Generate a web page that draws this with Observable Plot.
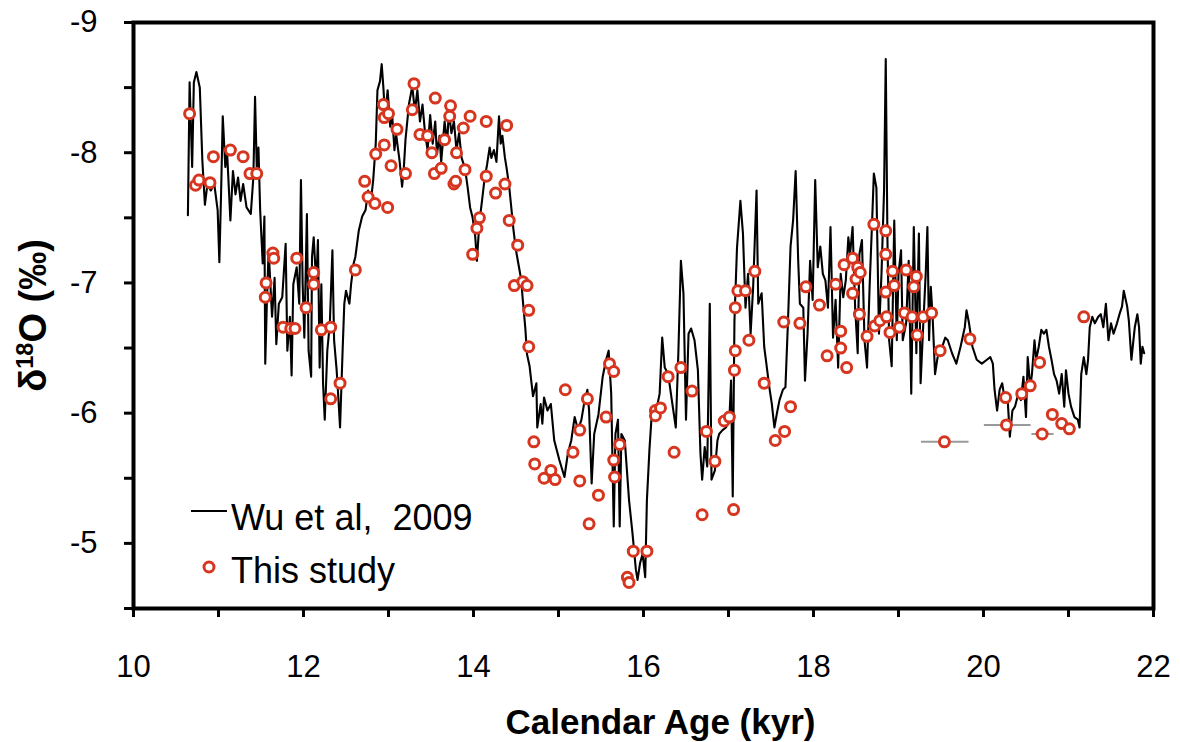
<!DOCTYPE html>
<html>
<head>
<meta charset="utf-8">
<script src="https://cdn.jsdelivr.net/npm/d3@7"></script>
<script src="https://cdn.jsdelivr.net/npm/@observablehq/plot@0.6"></script>
<style>
  html, body { margin: 0; padding: 0; background: #fff; }
  svg { display: block; }
</style>
</head>
<body>
<div id="chart"></div>
<script>
// ---- Wu et al. 2009 record (calendar age kyr, d18O permil) ----
const wuAge = [
10.64,10.66,10.69,10.71,10.74,10.78,10.81,10.84,10.87,10.91,10.95,10.99,11.01,11.03,11.05,11.08,11.10,11.14,11.17,11.20,
11.23,11.26,11.29,11.33,11.38,11.41,11.43,11.45,11.47,11.49,11.52,11.54,11.55,11.57,11.59,11.63,11.66,11.68,11.71,11.75,
11.79,11.81,11.84,11.86,11.88,11.92,11.95,11.97,11.99,12.01,12.04,12.06,12.09,12.10,12.12,12.15,12.17,12.19,12.21,12.23,
12.25,12.28,12.31,12.34,12.36,12.39,12.41,12.43,12.46,12.48,12.50,12.54,12.56,12.59,12.61,12.65,12.69,12.73,12.76,12.79,
12.82,12.85,12.87,12.90,12.92,12.94,12.96,12.99,13.02,13.04,13.07,13.09,13.13,13.16,
13.18,13.20,13.24,13.28,13.31,13.34,13.37,13.40,13.43,13.46,13.49,13.52,13.55,13.57,13.60,13.62,13.66,13.69,13.71,13.74,
13.77,13.80,13.83,13.86,13.90,13.93,13.96,13.99,14.02,14.04,14.07,14.10,14.13,14.16,14.19,14.21,14.24,14.27,14.30,14.32,
14.34,14.37,14.39,14.42,14.44,14.47,14.50,14.53,14.56,14.58,14.61,14.63,
14.66,14.70,14.74,14.75,14.79,14.81,14.83,14.87,14.91,14.95,15.01,15.07,15.11,15.15,15.19,15.23,15.27,15.30,15.34,15.36,
15.39,15.42,15.47,15.52,15.56,15.59,15.62,15.65,15.67,15.70,15.72,15.74,15.78,15.83,15.87,15.91,15.93,15.96,15.99,16.02,
16.04,16.07,16.10,
16.11,16.15,16.19,16.22,16.25,16.29,16.34,16.38,16.41,16.44,16.47,16.50,16.53,16.56,16.60,16.64,16.67,16.69,16.72,16.75,
16.78,16.80,16.84,16.87,16.89,16.93,16.97,17.01,17.03,17.05,17.07,17.10,17.14,17.17,17.20,17.23,17.26,17.29,17.33,17.35,
17.39,17.42,17.44,17.48,17.51,17.54,17.57,17.60,17.64,17.67,17.70,17.73,17.76,17.79,17.82,17.84,17.88,17.90,17.93,17.96,
17.99,18.02,18.05,18.08,18.11,18.14,18.17,18.20,18.23,18.26,18.29,18.32,18.35,18.38,18.41,18.43,18.46,18.49,18.52,18.54,
18.57,18.60,18.63,18.66,18.69,18.71,18.74,18.77,
18.80,18.83,18.85,18.87,18.89,18.92,18.95,18.98,19.00,19.03,19.05,19.09,19.12,19.15,19.18,19.21,19.24,19.26,19.29,19.32,
19.34,19.36,19.38,19.40,19.43,19.46,19.50,19.55,19.58,19.63,19.68,19.73,19.78,19.80,19.83,19.87,19.92,19.98,20.04,20.08,
20.11,20.13,20.16,20.19,20.22,20.25,20.28,20.31,20.34,20.37,20.41,20.44,20.47,20.50,20.52,20.55,20.57,20.60,20.62,20.65,
20.68,20.71,20.74,20.77,20.80,20.83,20.86,20.89,20.92,20.95,20.97,21.00,21.03,21.07,21.11,21.13,21.15,21.18,21.21,21.23,
21.25,21.28,21.31,21.35,21.38,21.41,21.44,21.47,21.50,21.53,21.57,21.60,21.63,21.65,21.69,21.71,21.74,21.78,21.81,21.83,
21.85,21.87,21.89
];
const wuD18O = [
-7.52,-8.54,-7.89,-8.54,-8.62,-8.50,-7.94,-7.60,-7.76,-7.71,-7.76,-7.56,-7.16,-7.68,-8.28,-7.89,-8.02,-7.48,-7.86,-7.68,
-7.81,-7.63,-7.76,-7.58,-7.53,-7.81,-8.43,-7.89,-8.04,-7.56,-7.15,-7.51,-6.38,-6.87,-7.25,-6.74,-7.04,-6.53,-6.84,-6.89,
-7.30,-6.48,-6.74,-6.29,-6.99,-7.12,-6.84,-7.79,-6.99,-6.58,-7.53,-6.48,-6.28,-7.20,-7.35,-6.99,-7.33,-6.35,-6.99,-6.23,
-5.95,-6.48,-6.69,-7.25,-6.56,-6.33,-6.12,-5.89,-6.48,-6.84,-6.94,-6.84,-6.99,-7.15,-7.20,-7.40,-7.51,-7.56,-7.71,-7.61,
-7.79,-8.07,-8.48,-8.55,-8.68,-8.50,-8.27,-8.48,-8.20,-8.32,-8.02,-8.14,-7.94,-7.74,
-7.88,-8.10,-8.37,-8.51,-8.32,-8.48,-8.24,-8.37,-8.15,-8.02,-8.29,-8.07,-8.24,-7.99,-8.13,-7.93,-8.24,-8.07,-8.32,-8.15,
-8.24,-8.02,-8.15,-7.96,-7.88,-7.74,-7.58,-7.50,-7.36,-7.17,-7.47,-7.63,-7.80,-7.91,-8.04,-7.96,-8.02,-7.93,-8.28,-8.07,
-8.13,-7.96,-7.88,-7.74,-7.61,-7.41,-7.25,-7.14,-7.03,-6.87,-6.65,-6.45,
-6.36,-6.13,-6.23,-5.89,-6.07,-5.92,-6.12,-6.02,-6.07,-5.79,-5.64,-5.51,-5.69,-5.79,-5.97,-5.87,-5.95,-6.07,-6.18,-6.02,
-5.46,-5.84,-5.99,-6.28,-6.41,-6.48,-6.15,-5.13,-5.84,-5.95,-5.13,-5.84,-5.79,-5.33,-5.08,-4.80,-4.72,-4.85,-4.92,-4.74,
-5.33,-5.72,-6.02,
-6.00,-6.02,-6.15,-6.58,-6.35,-6.30,-6.07,-5.89,-6.46,-7.17,-6.92,-5.95,-6.61,-6.65,-6.56,-6.33,-5.69,-5.49,-5.74,-5.59,
-6.84,-5.49,-5.56,-5.79,-5.84,-5.87,-5.89,-5.95,-6.25,-5.36,-6.71,-7.27,-7.63,-7.38,-6.81,-7.07,-6.61,-6.97,-7.71,-6.84,
-6.92,-6.51,-6.41,-6.20,-6.07,-5.89,-6.00,-6.10,-6.18,-6.20,-6.71,-7.28,-7.48,-7.86,-7.17,-6.84,-6.81,-6.25,-6.61,-7.17,
-6.87,-7.79,-7.12,-7.28,-7.07,-7.02,-6.81,-7.43,-6.58,-6.87,-6.35,-7.07,-6.89,-7.02,-7.35,-7.22,-7.43,-6.81,-6.46,-7.22,
-7.33,-6.56,-6.35,-6.97,-7.48,-7.84,-7.73,-6.61,
-7.07,-7.71,-8.72,-7.33,-6.56,-6.36,-7.48,-6.56,-7.07,-7.25,-6.56,-6.69,-7.17,-6.15,-7.43,-6.46,-7.38,-6.23,-6.66,-7.07,
-7.43,-6.56,-6.97,-6.76,-6.30,-6.43,-6.48,-6.58,-6.56,-6.46,-6.38,-6.51,-6.66,-6.79,-6.69,-6.51,-6.41,-6.38,-6.41,-6.43,
-6.38,-6.18,-6.02,-6.18,-6.23,-6.10,-6.15,-5.82,-6.02,-6.05,-6.15,-6.10,-6.28,-5.97,-6.43,-6.20,-6.30,-6.56,-6.41,-6.51,
-6.64,-6.61,-6.64,-6.51,-6.41,-6.30,-6.25,-6.15,-6.30,-6.05,-6.33,-6.15,-6.05,-5.97,-5.95,-5.89,-6.30,-6.43,-6.30,-6.41,
-6.66,-6.74,-6.69,-6.74,-6.76,-6.66,-6.84,-6.56,-6.69,-6.61,-6.69,-6.76,-6.82,-6.94,-6.82,-6.71,-6.41,-6.66,-6.76,-6.66,
-6.38,-6.51,-6.46
];

// ---- This study (calendar age kyr, d18O permil) ----
const studyAge = [
10.66,10.73,10.77,10.90,10.94,11.14,11.29,11.37,11.45,11.55,11.56,11.64,11.65,11.76,11.85,11.90,11.92,12.03,12.12,12.12,
12.21,12.32,12.32,12.43,12.61,12.72,12.76,12.84,12.85,12.94,12.95,12.95,12.99,13.00,13.03,13.10,13.20,13.28,13.30,13.37,
13.46,13.51,13.54,13.55,13.62,13.66,13.72,13.73,13.77,13.79,13.80,13.88,13.90,13.96,13.99,14.04,14.07,14.15,14.15,14.26,
14.37,14.39,14.42,14.48,14.52,14.58,14.63,14.65,14.65,14.71,14.72,14.83,14.91,14.96,15.08,15.17,15.25,15.25,15.34,15.36,
15.47,15.56,15.60,15.65,15.65,15.66,15.72,15.81,15.83,15.88,16.04,16.14,16.14,16.20,16.29,16.36,16.44,16.57,16.69,16.74,
16.84,16.95,17.01,17.06,17.07,17.08,17.08,17.11,17.20,17.24,17.31,17.42,17.55,17.65,17.66,17.73,17.84,17.91,18.07,18.16,
18.26,18.32,18.32,18.36,18.39,18.46,18.46,18.50,18.52,18.54,18.55,18.63,18.71,18.72,18.78,18.85,18.85,18.85,18.86,18.90,
18.93,18.95,19.01,19.07,19.09,19.16,19.18,19.21,19.22,19.29,19.39,19.49,19.54,19.84,20.26,20.27,20.45,20.55,20.66,20.69,
20.81,20.92,21.01,21.18
];
const studyD18O = [
-8.30,-7.75,-7.79,-7.77,-7.97,-8.02,-7.97,-7.84,-7.84,-6.89,-7.00,-7.23,-7.19,-6.66,-6.65,-6.65,-7.19,-6.81,-7.08,-6.99,
-6.64,-6.66,-6.11,-6.23,-7.10,-7.78,-7.66,-7.61,-7.99,-8.37,-8.27,-8.06,-7.58,-8.30,-7.90,-8.18,-7.84,-8.33,-8.53,-8.14,
-8.13,-8.00,-7.84,-8.42,-7.88,-8.10,-8.28,-8.36,-7.76,-7.78,-8.00,-8.19,-7.87,-8.28,-7.22,-7.42,-7.50,-8.24,-7.82,-7.69,
-7.76,-8.21,-7.48,-6.98,-7.29,-7.01,-6.98,-6.79,-6.51,-5.78,-5.61,-5.50,-5.56,-5.49,-6.18,-5.70,-5.87,-5.48,-6.11,-5.15,
-5.37,-5.97,-6.38,-6.32,-5.64,-5.51,-5.76,-4.74,-4.70,-4.94,-4.94,-6.02,-5.98,-6.04,-6.28,-5.70,-6.35,-6.17,-5.22,-5.86,
-5.63,-5.94,-5.97,-5.26,-6.33,-6.48,-6.81,-6.94,-6.94,-6.56,-7.09,-6.23,-5.79,-6.70,-5.86,-6.05,-6.69,-6.97,-6.83,-6.44,
-6.99,-6.63,-6.50,-7.14,-6.35,-7.19,-6.92,-7.03,-7.12,-6.76,-7.08,-6.59,-7.45,-6.67,-6.71,-7.40,-7.22,-6.93,-6.74,-6.62,
-7.09,-6.98,-6.66,-6.77,-7.10,-6.74,-6.97,-7.05,-6.60,-6.74,-6.77,-6.48,-5.78,-6.57,-6.12,-5.91,-6.15,-6.21,-6.39,-5.84,
-5.99,-5.92,-5.88,-6.74
];

// ---- age uncertainty bars for three samples ----
const errAgeLo = [19.27, 20.01, 20.57];
const errAgeHi = [19.83, 20.56, 20.83];
const errD18O  = [-5.78, -5.91, -5.84];

// ---- ticks and labels ----
const xTicks = [10,11,12,13,14,15,16,17,18,19,20,21,22];
const yTicks = [-9,-8.5,-8,-7.5,-7,-6.5,-6,-5.5,-5,-4.5];
const xLabel = "Calendar Age (kyr)";
const yLabel = "δ18O (‰)";
const seriesNames = ["Wu et al,  2009", "This study"];

const wu = wuAge.map((a, i) => ({age: a, d18O: wuD18O[i]}));
const study = studyAge.map((a, i) => ({age: a, d18O: studyD18O[i]}));
const errs = errAgeLo.map((lo, i) => ({lo, hi: errAgeHi[i], d18O: errD18O[i]}));

const RED = "#d6361f";
const FONT = "'Liberation Sans', Arial, Helvetica, sans-serif";

const chart = Plot.plot({
  width: 1180,
  height: 742,
  marginLeft: 133,
  marginRight: 27,
  marginTop: 22,
  marginBottom: 134,
  style: {fontFamily: FONT, background: "#fff", color: "#000"},
  x: {domain: [10, 22]},
  y: {domain: [-4.5, -9]},
  marks: [
    Plot.line(wu, {x: "age", y: "d18O", stroke: "#000", strokeWidth: 2.1, strokeLinejoin: "round"}),
    Plot.ruleY(errs, {x1: "lo", x2: "hi", y: "d18O", stroke: "#9a9a9a", strokeWidth: 2}),
    Plot.dot(study, {x: "age", y: "d18O", r: 5, stroke: RED, strokeWidth: 3, fill: "#fff"}),
    Plot.frame({stroke: "#000", strokeWidth: 4}),
    Plot.axisX({ticks: xTicks, tickSize: 9, tickPadding: 37, strokeWidth: 3, fontSize: 31,
      tickFormat: d => (d % 2 === 0 ? String(d) : ""), label: null}),
    Plot.axisY({ticks: yTicks, tickSize: 9, tickPadding: 27, strokeWidth: 3, fontSize: 31,
      tickFormat: d => (Number.isInteger(d) ? String(d) : ""), label: null}),
    Plot.text([xLabel], {text: d => d, frameAnchor: "bottom", dx: 17, dy: 114, fontSize: 35,
      fontWeight: "bold", lineAnchor: "middle", textAnchor: "middle"}),
    Plot.text([yLabel], {text: d => d, frameAnchor: "left", dx: -100, rotate: -90, fontSize: 38,
      fontWeight: "bold", lineAnchor: "middle", textAnchor: "middle"})
  ]
});

document.getElementById("chart").appendChild(chart);

// superscript the isotope mass number in the y title
d3.select(chart).selectAll("text").each(function() {
  if (this.textContent === yLabel) {
    const t = d3.select(this);
    t.text(null);
    t.append("tspan").text("δ");
    t.append("tspan").attr("font-size", "0.62em").attr("dy", "-0.55em").text("18");
    t.append("tspan").attr("dy", "0.34em").text("O (‰)");
  }
});

// legend inside the plot area (bottom-left)
const lg = d3.select(chart).append("g")
  .attr("font-family", FONT)
  .attr("font-size", 36).attr("fill", "#000").attr("text-anchor", "start");
lg.append("line").attr("x1", 191).attr("x2", 227).attr("y1", 511).attr("y2", 511)
  .attr("stroke", "#000").attr("stroke-width", 2);
lg.append("text").attr("x", 231).attr("y", 530).attr("text-anchor", "start")
  .style("white-space", "pre").text(seriesNames[0]);
lg.append("circle").attr("cx", 209).attr("cy", 567).attr("r", 5)
  .attr("stroke", RED).attr("stroke-width", 3).attr("fill", "#fff");
lg.append("text").attr("x", 231).attr("y", 583).attr("text-anchor", "start")
  .style("white-space", "pre").text(seriesNames[1]);
</script>
</body>
</html>
